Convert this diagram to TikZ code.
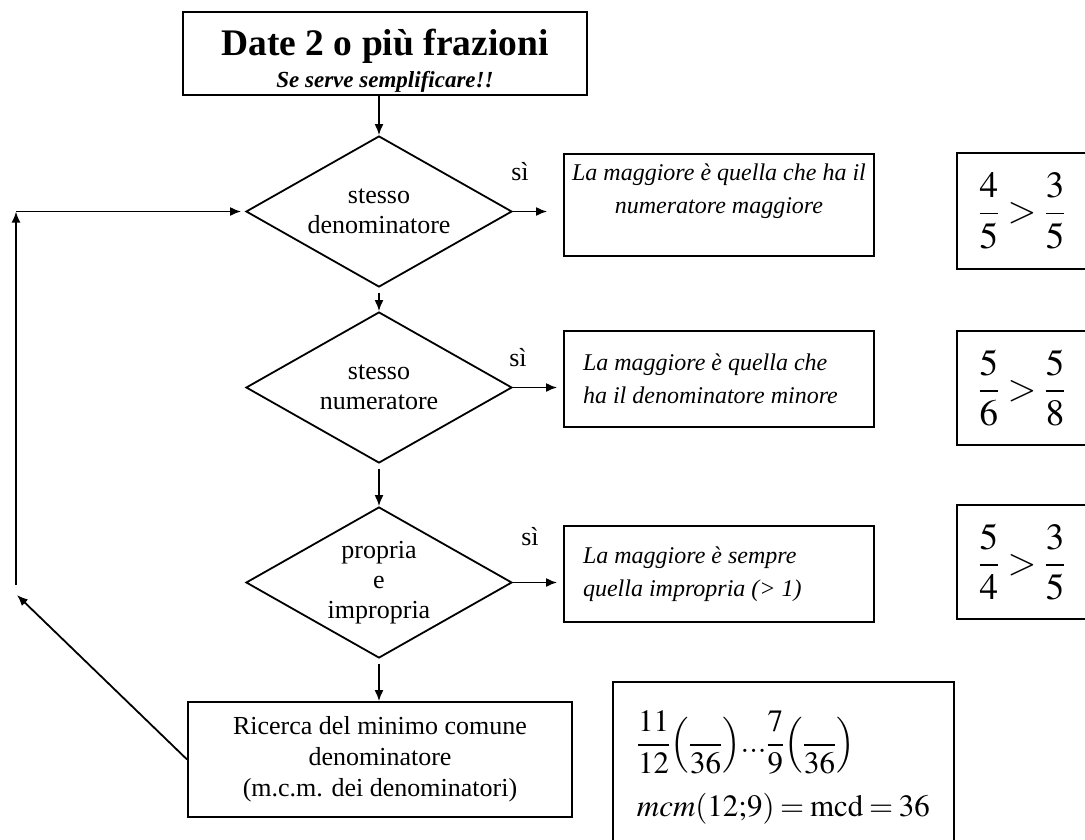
\documentclass[tikz,border=0pt]{standalone}
\usepackage{mathptmx}
\usepackage{fontspec}
\setmainfont{Liberation Serif}
\usepackage{amsmath}
\usetikzlibrary{positioning,arrows.meta}
\usetikzlibrary{shapes.geometric}
\tikzstyle{every picture}+=[line width=1.8pt]
\tikzstyle{rombo} = [draw,diamond,aspect=1.76,minimum width=266pt,minimum height=151pt,inner sep=0pt,align=center,font=\fontsize{26}{30}\selectfont]
\tikzstyle{riquadro} = [draw,rectangle,inner sep=0pt]
\tikzstyle{regola} = [riquadro,minimum width=310pt,font=\fontsize{24}{33}\selectfont\itshape]
\tikzstyle{esempio} = [riquadro,minimum width=130pt,font=\fontsize{37}{40}\selectfont]
\tikzstyle{freccia} = [-{Latex[length=11pt,width=9pt]}]
\tikzstyle{si} = [font=\fontsize{26}{30}\selectfont]

\begin{document}
\begin{tikzpicture}[x=1pt,y=-1pt]
    \clip (0,0) rectangle (1085,839);
    % Draw title
    \node[riquadro,minimum width=404pt,minimum height=83pt,align=center,
        font=\fontsize{23}{32}\selectfont] (titolo) at (385,53.5)
        {\rule{0pt}{40pt}{\fontsize{37.5}{40}\selectfont\bfseries Date 2 o più frazioni}\\
         {\bfseries\itshape Se serve semplificare!!}};
    % Draw the three questions
    \node[rombo] (d1) at (379,211.5) {stesso\\denominatore};
    \node[rombo] (d2) at (379,387.5) {stesso\\numeratore};
    \node[rombo] (d3) at (379,582.5) {propria\\e\\impropria};
    \node[riquadro,minimum width=384pt,minimum height=115pt,align=center,
        font=\fontsize{26}{31}\selectfont] (mcd) at (380,759.5)
        {Ricerca del minimo comune\\denominatore\\(m.c.m. dei denominatori)};
    % Draw the answers
    \node[regola,minimum height=102pt,align=center] (regA) at (719,205)
        {\rule{0pt}{26pt}La maggiore è quella che ha il\\numeratore maggiore\\\strut};
    \node[regola,minimum height=96pt,text width=272pt,inner xsep=19pt,align=flush left] (regB) at (719,379)
        {La maggiore è quella che\\ha il denominatore minore};
    \node[regola,minimum height=96pt,text width=272pt,inner xsep=19pt,align=flush left] (regC) at (719,574)
        {La maggiore è sempre\\quella impropria (> 1)};
    % Draw the examples
    \node[esempio,minimum height=116pt] (es1) at (1022,211) {$\dfrac{4}{5}>\dfrac{3}{5}$};
    \node[esempio,minimum height=114pt] (es2) at (1022,388) {$\dfrac{5}{6}>\dfrac{5}{8}$};
    \node[esempio,minimum height=114pt] (es3) at (1022,562) {$\dfrac{5}{4}>\dfrac{3}{5}$};
    \node[riquadro,anchor=north west,text width=293pt,inner xsep=24pt,inner ysep=29pt,align=flush left,
        font=\fontsize{31}{36}\selectfont] (es4) at (612,681)
        {$\displaystyle\frac{11}{12}\!\left(\frac{}{36}\right)\!{\ldotp}{\ldotp}{\ldotp}\frac{7}{9}\!\left(\frac{}{36}\right)$\\[18pt]
         $mcm(12{;}9)=\mathrm{mcd}=36$};
    % Draw the yes labels
    \node[si] (si1) at (520,172) {sì};
    \node[si] (si2) at (518,358) {sì};
    \node[si] (si3) at (530,537) {sì};
    % Draw connectors
    \draw[freccia] (d1.north |- titolo.south) -- (d1.north);
    \draw[freccia,shorten <=5pt] (d1.south) -- (d2.north);
    \draw[freccia,shorten <=5pt] (d2.south) -- (d3.north);
    \draw[freccia,shorten <=5pt] (d3.south) -- (d3.south |- mcd.north);
    \draw[freccia,shorten >=16pt] (d1.east) -- (d1.east -| regA.west);
    \draw[freccia,shorten >=6pt] (d2.east) -- (d2.east -| regB.west);
    \draw[freccia,shorten >=6pt] (d3.east) -- (d3.east -| regC.west);
    % Draw the way back
    \coordinate (punta) at (17,595);
    \coordinate (risalita) at (16,585);
    \coordinate (angolo) at (16,211.5);
    \draw[freccia] (mcd.west) -- (punta);
    \draw[freccia] (risalita) -- (angolo);
    \draw[freccia,shorten >=4pt] (angolo) -- (d1.west);
\end{tikzpicture}
\end{document}
